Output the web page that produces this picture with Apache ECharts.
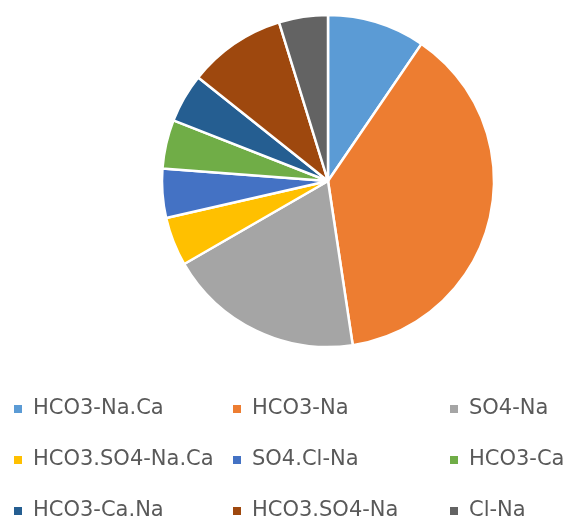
<!DOCTYPE html>
<html>
<head>
<meta charset="utf-8">
<script src="https://cdn.jsdelivr.net/npm/echarts@6/dist/echarts.min.js"></script>
<style>
  html, body { margin: 0; padding: 0; background: #fff; }
  #chart { width: 567px; height: 522px; }
</style>
</head>
<body>
<div id="chart"></div>
<script>
// water types (hydrochemical facies) and their sample counts
const categories = ['HCO3-Na.Ca', 'HCO3-Na', 'SO4-Na', 'HCO3.SO4-Na.Ca', 'SO4.Cl-Na', 'HCO3-Ca', 'HCO3-Ca.Na', 'HCO3.SO4-Na', 'Cl-Na'];
const counts = [2, 8, 4, 1, 1, 1, 1, 2, 1];
const colors = ['#5B9BD5', '#ED7D31', '#A5A5A5', '#FFC000', '#4472C4', '#70AD47', '#255E91', '#9E480E', '#636363'];

// legend grid: 3 columns x 3 rows
const legendColX = [12, 231, 448];
const legendRowY = [409, 460, 511];

const chart = echarts.init(document.getElementById('chart'));

const legends = categories.map((name, i) => ({
  data: [name],
  left: legendColX[i % 3],
  top: legendRowY[Math.floor(i / 3)] - 12,
  orient: 'horizontal',
  icon: 'rect',
  itemWidth: 10,
  itemHeight: 10,
  selectedMode: false,
  padding: 0,
  textStyle: {
    fontFamily: 'DejaVu Sans',
    fontSize: 21,
    color: '#595959',
    lineHeight: 24,
    padding: [0, 0, 0, 5]
  }
}));

chart.setOption({
  animation: false,
  color: colors,
  legend: legends,
  series: [{
    type: 'pie',
    center: [328, 181],
    radius: 166,
    startAngle: 90,
    clockwise: true,
    silent: true,
    label: { show: false },
    labelLine: { show: false },
    itemStyle: { borderColor: '#fff', borderWidth: 2.5 },
    data: categories.map((name, i) => ({ name: name, value: counts[i] }))
  }]
});
</script>
</body>
</html>
